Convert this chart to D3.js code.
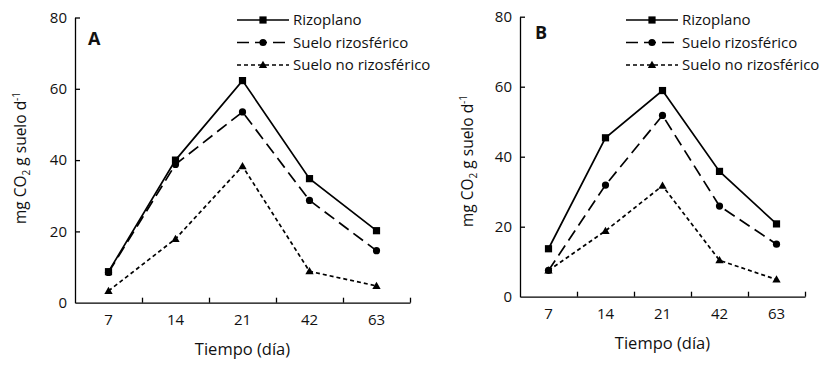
<!DOCTYPE html>
<html>
<head>
<meta charset="utf-8">
<script src="https://cdn.jsdelivr.net/npm/d3@7"></script>
<style>
  body { margin: 0; background: #fff; }
  svg { font-family: "Open Sans", sans-serif; }
</style>
</head>
<body>
<div id="wrapper"></div>
<script>
// data
const days = ["7", "14", "21", "42", "63"];
const seriesNames = ["Rizoplano", "Suelo rizosférico", "Suelo no rizosférico"];
const yTicks = [0, 20, 40, 60, 80];

const rizoplanoA = [8.7, 40, 62.3, 34.8, 20.2];
const rizosfericoA = [8.5, 38.8, 53.5, 28.7, 14.6];
const noRizosfericoA = [3.3, 17.9, 38.3, 8.8, 4.7];

const rizoplanoB = [13.7, 45.4, 58.9, 35.8, 20.8];
const rizosfericoB = [7.5, 31.9, 51.8, 25.9, 15.0];
const noRizosfericoB = [7.5, 18.8, 31.7, 10.4, 4.9];

const styles = [
  { dash: null, marker: "square" },
  { dash: "12,6", marker: "circle" },
  { dash: "4,3", marker: "triangle" },
];

const svg = d3.select("#wrapper")
  .append("svg")
  .attr("width", 825)
  .attr("height", 365);

function marker(g, type, cx, cy) {
  if (type === "square") {
    g.append("rect")
      .attr("x", cx - 3.6).attr("y", cy - 3.6)
      .attr("width", 7.2).attr("height", 7.2)
      .attr("fill", "#000");
  } else if (type === "circle") {
    g.append("circle")
      .attr("cx", cx).attr("cy", cy).attr("r", 3.6)
      .attr("fill", "#000");
  } else {
    g.append("path")
      .attr("d", d3.symbol(d3.symbolTriangle, 30)())
      .attr("transform", `translate(${cx},${cy + 0.6})`)
      .attr("fill", "#000");
  }
}

function drawPanel(p) {
  const y = d3.scaleLinear()
    .domain([0, 80])
    .range([p.bottom, p.top]);

  const x = d3.scaleBand()
    .domain(days)
    .range([p.left, p.right])
    .padding(0);

  const xEdges = d3.scaleLinear()
    .domain([0, days.length])
    .range([p.left, p.right]);

  const g = svg.append("g");

  // y axis
  const yAxis = g.append("g")
    .attr("transform", `translate(${p.left},0)`)
    .call(d3.axisLeft(y)
      .tickValues(yTicks)
      .tickSizeInner(-5)
      .tickSizeOuter(0)
      .tickPadding(8));
  yAxis.select(".domain").attr("stroke-width", 1.3);
  yAxis.selectAll(".tick line").attr("stroke-width", 1.3);
  yAxis.selectAll(".tick text")
    .attr("font-size", 15)
    .attr("font-family", "Open Sans")
    .attr("fill", "#111");
  yAxis.select(".tick:first-of-type line").remove();

  // x axis: ticks on band edges, labels on band centres
  const xTickAxis = g.append("g")
    .attr("transform", `translate(0,${p.bottom})`)
    .call(d3.axisBottom(xEdges)
      .tickValues(d3.range(1, days.length + 1))
      .tickSizeInner(-5)
      .tickSizeOuter(0)
      .tickFormat(""));
  xTickAxis.select(".domain").attr("stroke-width", 1.3);
  xTickAxis.selectAll(".tick line").attr("stroke-width", 1.3);

  const xLabelAxis = g.append("g")
    .attr("transform", `translate(0,${p.bottom})`)
    .call(d3.axisBottom(x).tickSize(0).tickPadding(p.labelPad));
  xLabelAxis.select(".domain").remove();
  xLabelAxis.selectAll(".tick text")
    .attr("font-size", 15)
    .attr("font-family", "Open Sans")
    .attr("fill", "#111");

  // axis titles
  g.append("text")
    .attr("x", (p.left + p.right) / 2)
    .attr("y", p.xTitleY)
    .attr("text-anchor", "middle")
    .attr("font-size", 16.5)
    .attr("fill", "#111")
    .text("Tiempo (día)");

  const yt = g.append("text")
    .attr("transform", `translate(${p.yTitleX},${p.yTitleMid}) rotate(-90)`)
    .attr("text-anchor", "middle")
    .attr("font-size", 15.5)
    .attr("fill", "#111");
  yt.append("tspan").text("mg CO");
  yt.append("tspan").attr("font-size", 10).attr("dy", 4).text("2");
  yt.append("tspan").attr("dy", -4).text(" g suelo d");
  yt.append("tspan").attr("font-size", 10).attr("dy", -6).text("-1");

  // panel letter
  g.append("text")
    .attr("x", p.left + p.letterDx)
    .attr("y", p.letterY)
    .attr("font-size", 18)
    .attr("font-weight", "bold")
    .attr("fill", "#111")
    .text(p.letter);

  // series
  const line = d3.line()
    .x((d, i) => x(days[i]) + x.bandwidth() / 2)
    .y(d => y(d));

  p.series.forEach((values, si) => {
    g.append("path")
      .datum(values)
      .attr("d", line)
      .attr("fill", "none")
      .attr("stroke", "#000")
      .attr("stroke-width", 1.7)
      .attr("stroke-dasharray", styles[si].dash);
    values.forEach((v, i) => {
      marker(g, styles[si].marker, x(days[i]) + x.bandwidth() / 2, y(v));
    });
  });

  // legend
  const rows = [20, 42.5, 65];
  seriesNames.forEach((name, si) => {
    const ly = rows[si];
    g.append("line")
      .attr("x1", p.legendX).attr("x2", p.legendX + 52)
      .attr("y1", ly).attr("y2", ly)
      .attr("stroke", "#000")
      .attr("stroke-width", 1.7)
      .attr("stroke-dasharray", styles[si].dash);
    marker(g, styles[si].marker, p.legendX + 26, ly);
    g.append("text")
      .attr("x", p.legendX + 56)
      .attr("y", ly + 5)
      .attr("font-size", 15)
      .attr("fill", "#111")
      .text(name);
  });
}

drawPanel({
  letter: "A",
  left: 75, right: 410, top: 17.5, bottom: 302.7,
  labelPad: 12, xTitleY: 355,
  yTitleX: 26, yTitleMid: 158,
  letterDx: 13, letterY: 45,
  legendX: 237,
  series: [rizoplanoA, rizosfericoA, noRizosfericoA],
});

drawPanel({
  letter: "B",
  left: 520, right: 805, top: 16.7, bottom: 296.7,
  labelPad: 12, xTitleY: 349,
  yTitleX: 473, yTitleMid: 161,
  letterDx: 15, letterY: 38.5,
  legendX: 626,
  series: [rizoplanoB, rizosfericoB, noRizosfericoB],
});
</script>
</body>
</html>
